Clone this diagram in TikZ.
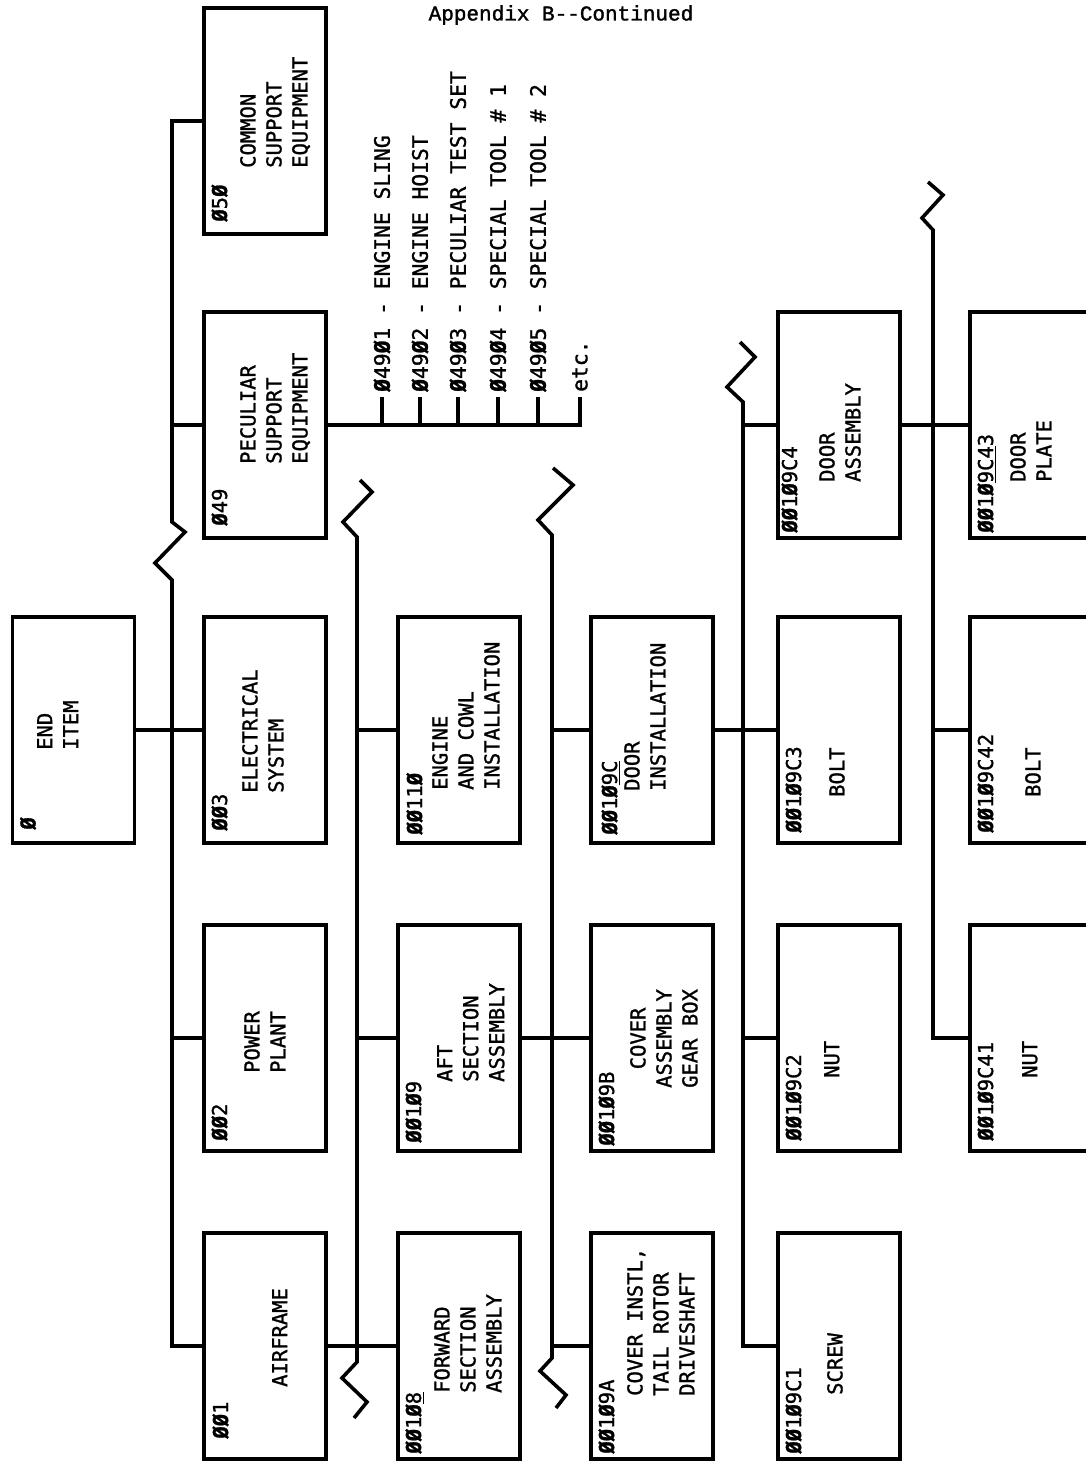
\documentclass[tikz,border=0pt]{standalone}
\usepackage{fontspec}
\newfontfamily\tw[FakeBold=1.2]{DejaVu Sans Mono}
\newfontfamily\hdr[FakeBold=1.5]{Liberation Mono}
\newcommand\Z{{\bfseries Ø}}
\begin{document}
\begin{tikzpicture}[x=1pt,y=-1pt,
  conn/.style={line width=3.6pt, line join=miter, line cap=butt},
  box/.style={draw, line width=3.6pt, minimum width=122pt, minimum height=226pt, inner sep=0pt},
  txt/.style={font=\tw\fontsize{20.5}{26}\selectfont, rotate=90, inner sep=0pt, align=left, anchor=north west},
  codetxt/.style={txt},
  listtxt/.style={font=\tw\fontsize{21.3}{26}\selectfont, rotate=90, inner sep=0pt, anchor=west}]
\useasboundingbox (0,0) rectangle (1086,1461);
\clip (0,0) rectangle (1086,1461);
\fill[white] (0,0) rectangle (1086,1461);

% header
\node[font=\hdr\fontsize{21}{24}\selectfont, inner sep=0pt] (hdr) at (561,15) {Appendix B-\kern0pt-Continued};

% boxes
\node[box] (e0) at (73.5,730) {};
\node[box] (a50) at (265,121) {};
\node[box] (a49) at (265,425) {};
\node[box] (a3) at (265,730) {};
\node[box] (a2) at (265,1038) {};
\node[box] (a1) at (265,1346) {};
\node[box] (b10) at (459,730) {};
\node[box] (b9) at (459,1038) {};
\node[box] (b8) at (459,1346) {};
\node[box] (c9c) at (652,730) {};
\node[box] (c9b) at (652,1038) {};
\node[box] (c9a) at (652,1346) {};
\node[box] (d4) at (839,425) {};
\node[box] (d3) at (839,730) {};
\node[box] (d2) at (839,1038) {};
\node[box] (d1) at (839,1346) {};
\node[box] (e43) at (1031,425) {};
\node[box] (e42) at (1031,730) {};
\node[box] (e41) at (1031,1038) {};

% codes
\node[codetxt] (e0c) at ([xshift=9pt,yshift=15pt]e0.south west) {\Z};
\node[codetxt] (a50c) at ([xshift=9pt,yshift=14pt]a50.south west) {\Z5\Z};
\node[codetxt] (a49c) at ([xshift=9pt,yshift=14pt]a49.south west) {\Z49};
\node[codetxt] (a3c) at ([xshift=9pt,yshift=14pt]a3.south west) {\Z\Z3};
\node[codetxt] (a2c) at ([xshift=9pt,yshift=12pt]a2.south west) {\Z\Z2};
\node[codetxt] (a1c) at ([xshift=10pt,yshift=22pt]a1.south west) {\Z\Z1};
\node[codetxt] (b10c) at ([xshift=10pt,yshift=10pt]b10.south west) {\Z\Z11\Z};
\node[codetxt] (b9c) at ([xshift=9pt,yshift=10pt]b9.south west) {\Z\Z1\Z9};
\node[codetxt] (b8c) at ([xshift=9pt,yshift=7pt]b8.south west) {\Z\Z1\Z\underline{8}};
\node[codetxt] (c9cc) at ([xshift=12pt,yshift=10pt]c9c.south west) {\Z\Z1\Z\underline{9C}};
\node[codetxt] (c9bc) at ([xshift=9pt,yshift=7pt]c9b.south west) {\Z\Z1\Z9B};
\node[codetxt] (c9ac) at ([xshift=9pt,yshift=7pt]c9a.south west) {\Z\Z1\Z9A};
\node[codetxt] (d4c) at ([xshift=5pt,yshift=7pt]d4.south west) {\Z\Z1\Z9C4};
\node[codetxt] (d3c) at ([xshift=9pt,yshift=12pt]d3.south west) {\Z\Z1\Z9C3};
\node[codetxt] (d2c) at ([xshift=9pt,yshift=12pt]d2.south west) {\Z\Z1\Z9C2};
\node[codetxt] (d1c) at ([xshift=9pt,yshift=7pt]d1.south west) {\Z\Z1\Z9C1};
\node[codetxt] (e43c) at ([xshift=9pt,yshift=7pt]e43.south west) {\Z\Z1\Z\underline{9C4}3};
\node[codetxt] (e42c) at ([xshift=9pt,yshift=12pt]e42.south west) {\Z\Z1\Z9C42};
\node[codetxt] (e41c) at ([xshift=9pt,yshift=12pt]e41.south west) {\Z\Z1\Z9C41};

% main texts
\node[txt] (e0t) at (37,750) {END\\ITEM};
\node[txt] (a50t) at (240,168) {COMMON\\SUPPORT\\EQUIPMENT};
\node[txt] (a49t) at (240,464) {PECULIAR\\SUPPORT\\EQUIPMENT};
\node[txt] (a3t) at (242,793) {ELECTRICAL\\SYSTEM};
\node[txt] (a2t) at (244,1073) {POWER\\PLANT};
\node[txt] (a1t) at (272,1387) {AIRFRAME};
\node[txt] (b10t) at (432,790) {ENGINE\\AND COWL\\INSTALLATION};
\node[txt] (b9t) at (437,1082) {AFT\\SECTION\\ASSEMBLY};
\node[txt] (b8t) at (434,1393) {FORWARD\\SECTION\\ASSEMBLY};
\node[txt] (c9ct) at (624,791) {DOOR\\INSTALLATION};
\node[txt, align=center] (c9bt) at (630,1088) {COVER\\ASSEMBLY\\GEAR BOX};
\node[txt] (c9at) at (627,1396) {COVER INSTL,\\TAIL ROTOR\\DRIVESHAFT};
\node[txt] (d4t) at (819,482) {DOOR\\ASSEMBLY};
\node[txt] (d3t) at (829,797) {BOLT};
\node[txt] (d2t) at (824,1078) {NUT};
\node[txt] (d1t) at (827,1395) {SCREW};
\node[txt] (e43t) at (1010,482) {DOOR\\PLATE};
\node[txt] (e42t) at (1025,797) {BOLT};
\node[txt] (e41t) at (1022,1078) {NUT};

% level 0 -> 1
\coordinate (L1) at (172,580);
\draw[conn] (e0.east) -- (a3.west);
\draw[conn] (a50.west) -- (L1 |- a50.west) -- (172,522) -- ++(13,10) -- ++(-30,31) -- ++(17,17) -- (L1 |- a1.west) -- (a1.west);
\draw[conn] (L1 |- a49.west) -- (a49.west);
\draw[conn] (L1 |- a2.west) -- (a2.west);

% level 1 -> 2
\coordinate (L2) at (357,537);
\draw[conn] (a1.east) -- (b8.west);
\draw[conn] (360,480) -- ++(12,12) -- ++(-29,30) -- ++(14,15) -- (L2 |- b8.west) -- (357,1362) -- ++(-15,16) -- ++(25,24) -- ++(-13,16);
\draw[conn] (L2 |- b9.west) -- (b9.west);
\draw[conn] (L2 |- b10.west) -- (b10.west);

% level 2 -> 3
\coordinate (L3) at (552,535);
\draw[conn] (b9.east) -- (c9b.west);
\draw[conn] (553,468) -- ++(20,17) -- ++(-35,35) -- ++(14,15) -- (L3 |- c9a.west) -- (552,1358) -- ++(-12,13) -- ++(26,24) -- ++(-10,13);
\draw[conn] (L3 |- c9a.west) -- (c9a.west);
\draw[conn] (L3 |- c9c.west) -- (c9c.west);

% level 3 -> 4
\coordinate (L4) at (743,402);
\draw[conn] (c9c.east) -- (d3.west);
\draw[conn] (740,342) -- ++(15,15) -- ++(-28,30) -- ++(16,15) -- (L4 |- d1.west) -- (d1.west);
\draw[conn] (L4 |- d2.west) -- (d2.west);
\draw[conn] (L4 |- d4.west) -- (d4.west);

% level 4 -> 5
\coordinate (L5) at (933,230);
\draw[conn] (d4.east) -- (e43.west);
\draw[conn] (928,182) -- ++(15,13) -- ++(-21,23) -- ++(11,12) -- (L5 |- e41.west) -- (e41.west);
\draw[conn] (L5 |- e42.west) -- (e42.west);

% peculiar support equipment list
\coordinate (t6) at (580,397);
\draw[conn] (a49.east) -- (t6 |- a49.east) -- (t6);
\foreach \tx in {382,420,458,498,538} \draw[conn] (\tx,425) -- (\tx,397);
\node[listtxt] (l1) at (382,392) {\Z49\Z1 - ENGINE SLING};
\node[listtxt] (l2) at (420,392) {\Z49\Z2 - ENGINE HOIST};
\node[listtxt] (l3) at (458,392) {\Z49\Z3 - PECULIAR TEST SET};
\node[listtxt] (l4) at (498,392) {\Z49\Z4 - SPECIAL TOOL \# 1};
\node[listtxt] (l5) at (538,392) {\Z49\Z5 - SPECIAL TOOL \# 2};
\node[listtxt] (l6) at (580,392) {etc.};
\end{tikzpicture}
\end{document}
